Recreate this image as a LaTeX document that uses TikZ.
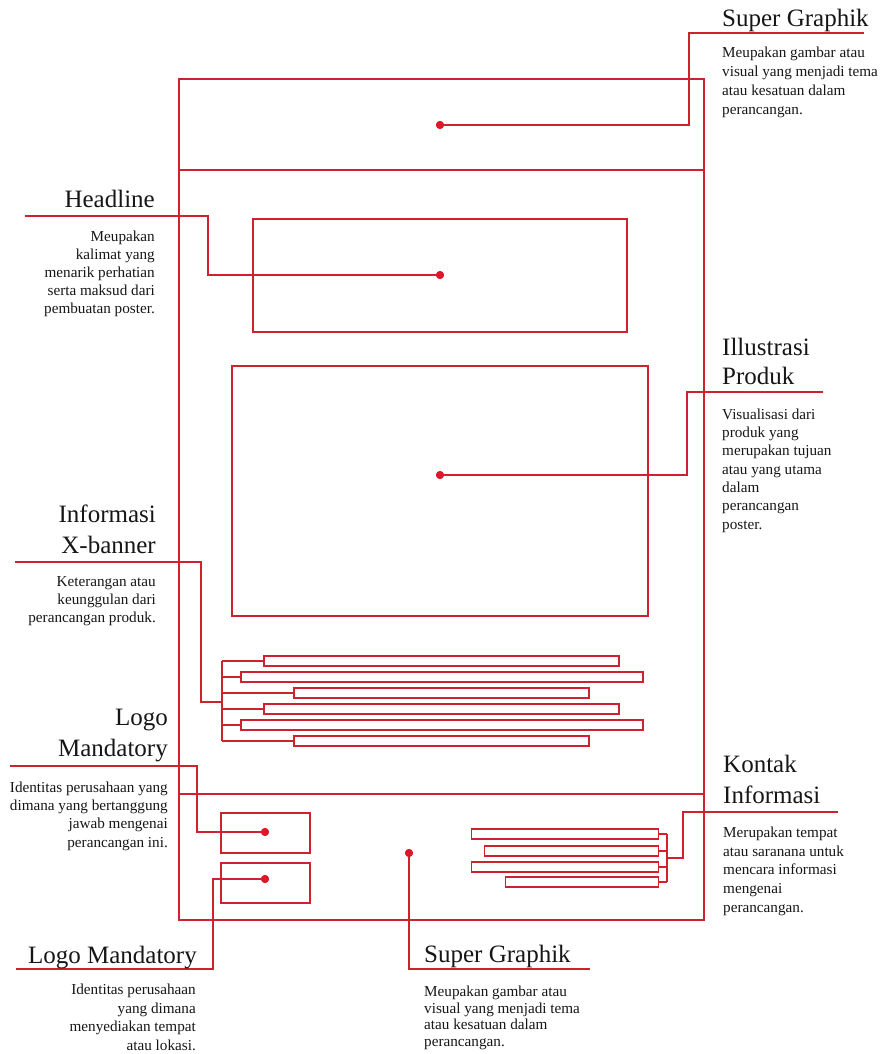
\documentclass[tikz,border=0pt]{standalone}
\usepackage{fontspec}
\setmainfont{Liberation Serif}
\definecolor{wirered}{RGB}{206,34,46}
\definecolor{dotred}{RGB}{222,24,40}
\definecolor{ink}{RGB}{22,22,22}
\tikzset{
  wire/.style={draw=wirered, line width=1.8pt, line join=miter},
  panel/.style={draw=wirered, line width=1.8pt, inner sep=0, anchor=north west},
  barbox/.style={draw=wirered, line width=1.5pt, inner sep=0, minimum height=10pt, anchor=west},
  dotmark/.style={circle, fill=dotred, inner sep=0, minimum size=8pt},
  heading/.style={font=\fontsize{25}{31}\selectfont, inner sep=0, text=ink},
  body/.style={font=\fontsize{15.2}{18.5}\selectfont, inner sep=0, text=ink},
}
\begin{document}
\begin{tikzpicture}[x=1pt,y=-1pt]
\useasboundingbox (0,0) rectangle (880,1054);

% poster frame and its three sections
\node[panel, minimum width=525pt, minimum height=841pt] (poster) at (178,78) {};
\coordinate (topL) at (178,170);  \coordinate (topR) at (703,170);
\coordinate (botL) at (178,794);  \coordinate (botR) at (703,794);
\draw[wire] (topL) -- (topR);
\draw[wire] (botL) -- (botR);

% content areas
\node[panel, minimum width=374pt, minimum height=113pt] (headbox) at (252,218) {};
\node[panel, minimum width=416pt, minimum height=250pt] (illbox) at (231,365) {};
\node[panel, minimum width=89pt, minimum height=40pt] (logoA) at (220,812) {};
\node[panel, minimum width=89pt, minimum height=40pt] (logoB) at (220,862) {};

% information bars
\node[barbox, minimum width=355pt] (b1) at (263,661) {};
\node[barbox, minimum width=402pt] (b2) at (240,677) {};
\node[barbox, minimum width=295pt] (b3) at (293,693) {};
\node[barbox, minimum width=355pt] (b4) at (263,709) {};
\node[barbox, minimum width=402pt] (b5) at (240,725) {};
\node[barbox, minimum width=295pt] (b6) at (293,741) {};
\coordinate (xbTop) at (222,661);
\coordinate (xbBot) at (222,741);
\coordinate (xbJoin) at (222,702);
\draw[wire, line width=1.5pt] (xbTop) -- (xbBot);
\foreach \b in {b1,b2,b3,b4,b5,b6}
  \draw[wire, line width=1.5pt] (xbTop |- \b.west) -- (\b.west);

% contact bars
\node[barbox, anchor=east, minimum width=187pt] (k1) at (659,834) {};
\node[barbox, anchor=east, minimum width=174pt] (k2) at (659,851) {};
\node[barbox, anchor=east, minimum width=187pt] (k3) at (659,867) {};
\node[barbox, anchor=east, minimum width=153pt] (k4) at (659,882) {};
\coordinate (kTop) at (667,834);
\coordinate (kBot) at (667,882);
\coordinate (kJoin) at (667,858);
\draw[wire, line width=1.5pt] (kTop) -- (kBot);
\foreach \k in {k1,k2,k3,k4}
  \draw[wire, line width=1.5pt] (\k.east) -- (kTop |- \k.east);

% marker dots
\node[dotmark] (dotTop) at (440,125) {};
\node[dotmark] (dotHead) at (440,275) {};
\node[dotmark] (dotIll) at (440,475) {};
\node[dotmark] (dotLogoA) at (265,832) {};
\node[dotmark] (dotLogoB) at (265,879) {};
\node[dotmark] (dotSG) at (409,853) {};

% label underline end points
\coordinate (sgTopL) at (689,33);  \coordinate (sgTopR) at (864,33);
\coordinate (hlL) at (25,216);     \coordinate (hlR) at (208,216);
\coordinate (ilL) at (687,392);    \coordinate (ilR) at (823,392);
\coordinate (xbL) at (15,562);     \coordinate (xbR) at (201,562);
\coordinate (lmL) at (10,766);     \coordinate (lmR) at (197,766);
\coordinate (kiL) at (683,812);    \coordinate (kiR) at (838,812);
\coordinate (lbL) at (16,969);     \coordinate (lbR) at (213,969);
\coordinate (sbL) at (409,969);    \coordinate (sbR) at (590,969);

% leader lines
\draw[wire] (dotTop.center) -| (sgTopL) -- (sgTopR);
\draw[wire] (hlL) -- (hlR) |- (dotHead.center);
\draw[wire] (dotIll.center) -| (ilL) -- (ilR);
\draw[wire] (xbL) -- (xbR) |- (xbJoin);
\draw[wire] (lmL) -- (lmR) |- (dotLogoA.center);
\draw[wire] (dotLogoB.center) -| (lbR) -- (lbL);
\draw[wire] (dotSG.center) |- (sbR);
\draw[wire] (kiR) -- (kiL) |- (kJoin);

% redraw dots above the lines
\foreach \d in {dotTop,dotHead,dotIll,dotLogoA,dotLogoB,dotSG}
  \fill[dotred] (\d.center) circle (4pt);

% labels
\node[heading, anchor=base west] (tSG) at (722,27) {Super Graphik};
\node[body, anchor=north west, align=left, font=\fontsize{15.2}{19}\selectfont] (dSG) at (722,46.6)
  {Meupakan gambar atau\\visual yang menjadi tema\\atau kesatuan dalam\\perancangan.};

\node[heading, anchor=base east] (tHL) at (155,207) {Headline};
\node[body, anchor=north east, align=right, font=\fontsize{15.2}{18}\selectfont] (dHL) at (155,230.6)
  {Meupakan\\kalimat yang\\menarik perhatian\\serta maksud dari\\pembuatan poster.};

\node[heading, anchor=north west, align=left, font=\fontsize{25}{29}\selectfont] (tIL) at (722,337.9)
  {Illustrasi\\Produk};
\node[body, anchor=north west, align=left, font=\fontsize{15.2}{18.3}\selectfont] (dIL) at (722,408.6)
  {Visualisasi dari\\produk yang\\merupakan tujuan\\atau yang utama\\dalam\\perancangan\\poster.};

\node[heading, anchor=north east, align=right] (tXB) at (156,504.9)
  {Informasi\\X-banner};
\node[body, anchor=north east, align=right, font=\fontsize{15.2}{18}\selectfont] (dXB) at (156,576.8)
  {Keterangan atau\\keunggulan dari\\perancangan produk.};

\node[heading, anchor=north east, align=right] (tLM) at (168,709.4)
  {Logo\\Mandatory};
\node[body, anchor=north east, align=right, font=\fontsize{15.2}{18.3}\selectfont] (dLM) at (168,781.6)
  {Identitas perusahaan yang\\dimana yang bertanggung\\jawab mengenai\\perancangan ini.};

\node[heading, anchor=north west, align=left] (tKI) at (723,754.9)
  {Kontak\\Informasi};
\node[body, anchor=north west, align=left, font=\fontsize{15.2}{18.75}\selectfont] (dKI) at (723,826.6)
  {Merupakan tempat\\atau saranana untuk\\mencara informasi\\mengenai\\perancangan.};

\node[heading, anchor=base east] (tLB) at (197,963) {Logo Mandatory};
\node[body, anchor=north east, align=right, font=\fontsize{15.2}{18.7}\selectfont] (dLB) at (196,983.6)
  {Identitas perusahaan\\yang dimana\\menyediakan tempat\\atau lokasi.};

\node[heading, anchor=base west] (tSB) at (424,962) {Super Graphik};
\node[body, anchor=north west, align=left, font=\fontsize{15.2}{16.8}\selectfont] (dSB) at (424,985.6)
  {Meupakan gambar atau\\visual yang menjadi tema\\atau kesatuan dalam\\perancangan.};
\end{tikzpicture}
\end{document}
